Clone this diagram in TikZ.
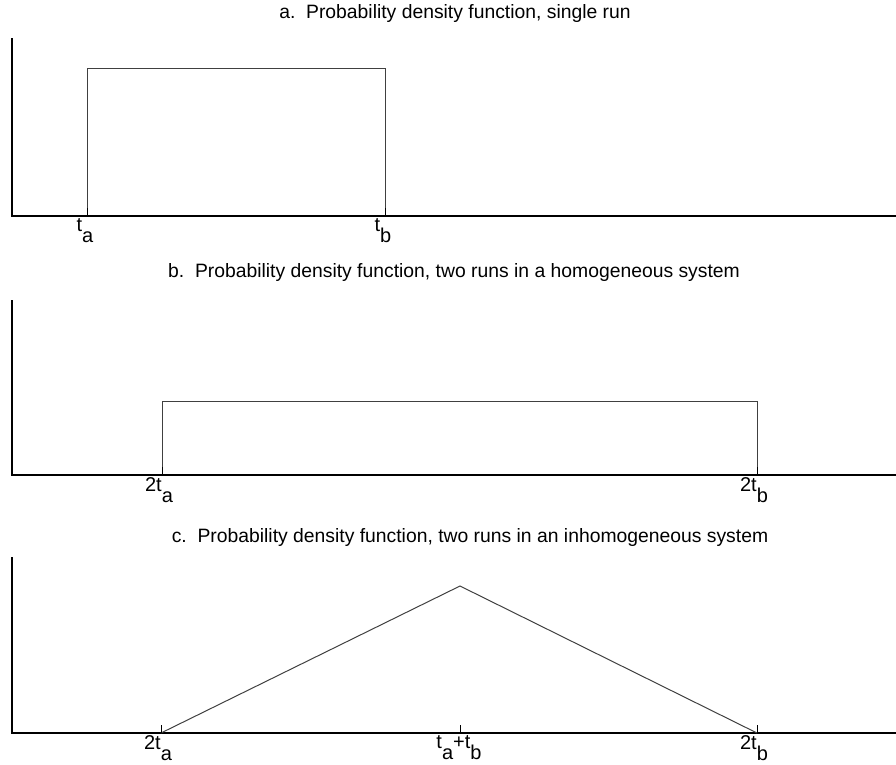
\documentclass[tikz,border=0pt]{standalone}
\usepackage{fontspec}
\setmainfont{Liberation Sans}
% subscript set well below the baseline, as in plot tick labels
\newcommand{\lowidx}[1]{\raisebox{-8.5pt}{\fontsize{15}{15}\selectfont #1}}
\begin{document}
\begin{tikzpicture}[x=0.75pt,y=-0.75pt,
  axisline/.style={line width=0.8pt,black},
  density/.style={line width=0.75pt,black!75},
  tickmark/.style={line width=0.75pt,black},
  ticklbl/.style={anchor=north,inner sep=0pt,font=\fontsize{15}{16}\selectfont},
  paneltitle/.style={inner sep=0pt,font=\fontsize{14.5}{16}\selectfont}]
\useasboundingbox (0,0) rectangle (896,764);

% ---- panel a: single run ----
\node[paneltitle] (titleA) at (455,13) {a.\ \ Probability density function, single run};
\coordinate (aTop) at (12,38);
\coordinate (aOrig) at (12,216);
\coordinate (aEnd) at (896,216);
\draw[axisline] (aTop) -- (aOrig) -- (aEnd);
\coordinate (aL) at (87,216); \coordinate (aLt) at (87,68);
\coordinate (aR) at (385,216); \coordinate (aRt) at (385,68);
\draw[density] (aL) -- (aLt) -- (aRt) -- (aR);
\draw[tickmark] (aL) -- ++(0,-8);
\draw[tickmark] (aR) -- ++(0,-8);
\node[ticklbl] (lblA1) at (85,218) {t\lowidx{a}};
\node[ticklbl] (lblA2) at (383,218) {t\lowidx{b}};

% ---- panel b: two runs, homogeneous ----
\node[paneltitle] (titleB) at (454,272) {b.\ \ Probability density function, two runs in a homogeneous system};
\coordinate (bTop) at (12,300);
\coordinate (bOrig) at (12,475);
\coordinate (bEnd) at (896,475);
\draw[axisline] (bTop) -- (bOrig) -- (bEnd);
\coordinate (bL) at (162,475); \coordinate (bLt) at (162,401);
\coordinate (bR) at (757,475); \coordinate (bRt) at (757,401);
\draw[density] (bL) -- (bLt) -- (bRt) -- (bR);
\draw[tickmark] (bL) -- ++(0,-8);
\draw[tickmark] (bR) -- ++(0,-8);
\node[ticklbl] (lblB1) at (159,477) {2t\lowidx{a}};
\node[ticklbl] (lblB2) at (754,477) {2t\lowidx{b}};

% ---- panel c: two runs, inhomogeneous ----
\node[paneltitle] (titleC) at (470,537) {c.\ \ Probability density function, two runs in an inhomogeneous system};
\coordinate (cTop) at (12,557);
\coordinate (cOrig) at (12,733);
\coordinate (cEnd) at (896,733);
\draw[axisline] (cTop) -- (cOrig) -- (cEnd);
\coordinate (cL) at (161,733);
\coordinate (cM) at (460,733); \coordinate (cPeak) at (460,586);
\coordinate (cR) at (757,733);
\draw[density] (cL) -- (cPeak) -- (cR);
\draw[tickmark] (cL) -- ++(0,-8);
\draw[tickmark] (cM) -- ++(0,-8);
\draw[tickmark] (cR) -- ++(0,-8);
\node[ticklbl] (lblC1) at (158,735) {2t\lowidx{a}};
\node[ticklbl] (lblC2) at (459,735) {t\lowidx{a}+t\lowidx{b}};
\node[ticklbl] (lblC3) at (754,735) {2t\lowidx{b}};
\end{tikzpicture}
\end{document}
